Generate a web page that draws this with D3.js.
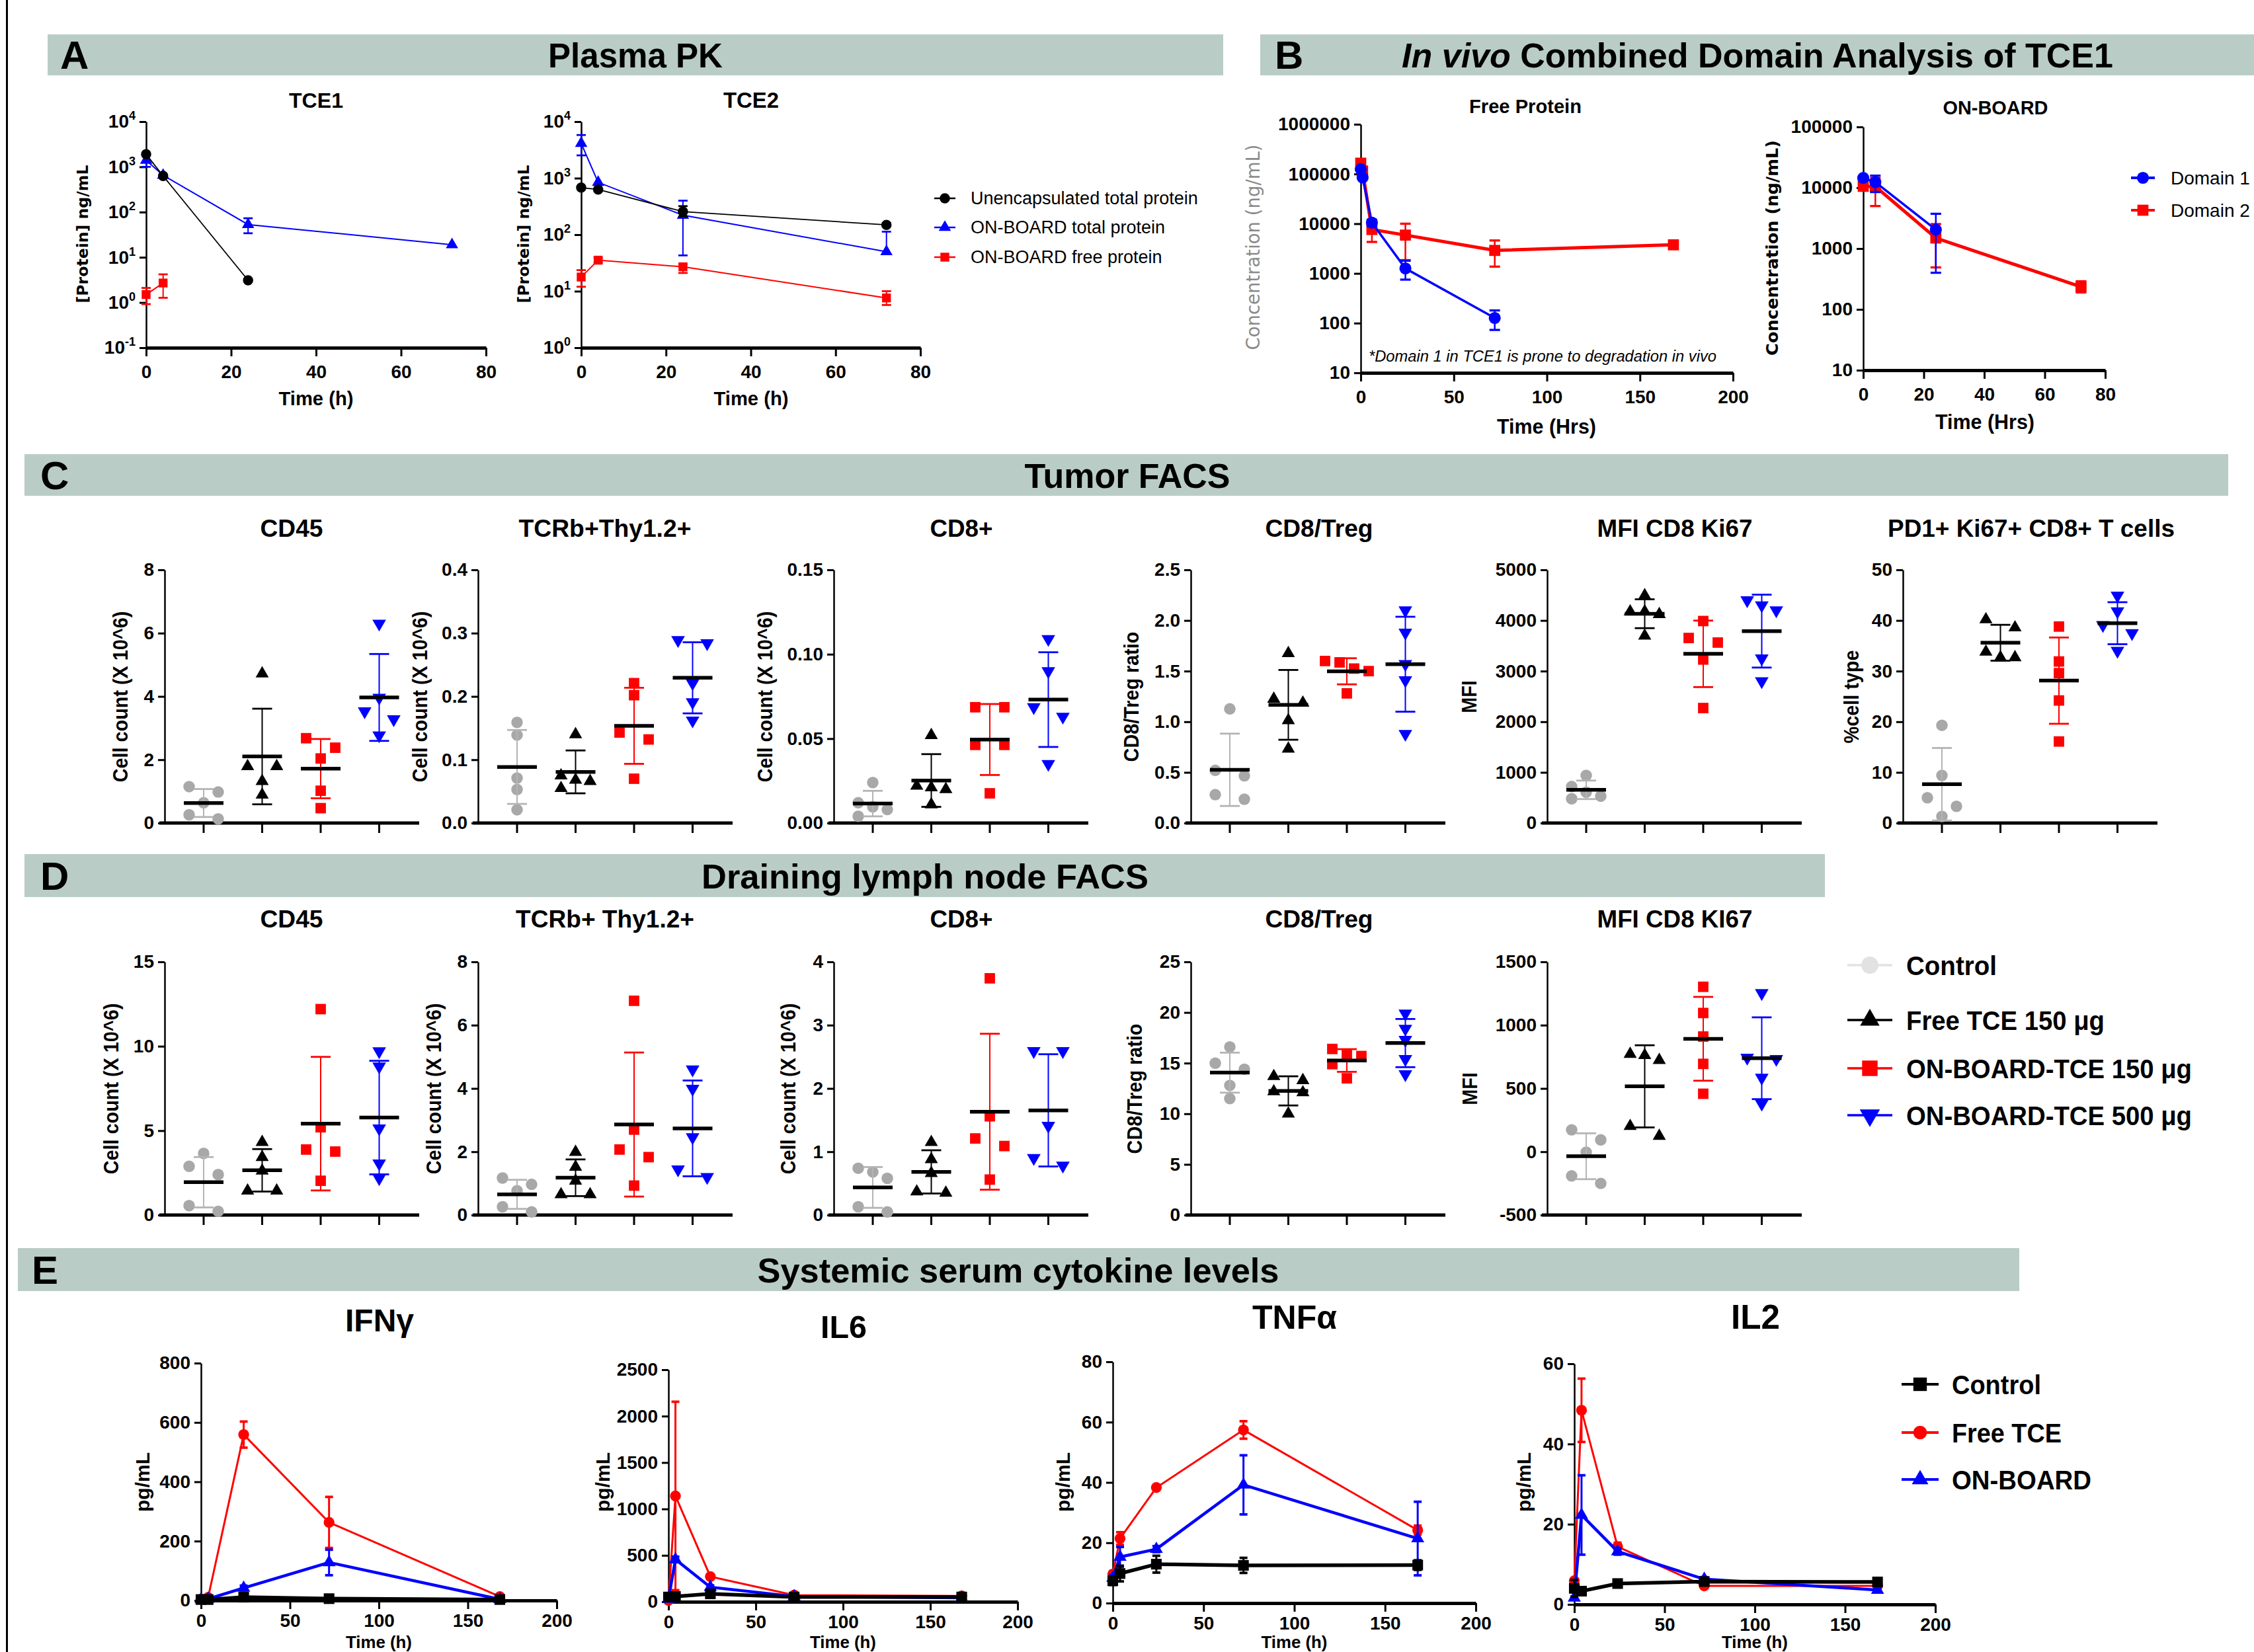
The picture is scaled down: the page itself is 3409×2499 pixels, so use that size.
<!DOCTYPE html>
<html><head><meta charset="utf-8">
<script src="https://cdn.jsdelivr.net/npm/d3@7"></script>
<style>body{margin:0;background:#fff}</style>
</head><body>
<script>
// ================= DATA =================
// Panel A: Plasma PK   rows: [time h, mean, low, high]
const pkSeriesNames = ["Unencapsulated total protein","ON-BOARD total protein","ON-BOARD free protein"];
const pkTicksX = [0,20,40,60,80];
const tce1Unencap      = [[0,1900],[4,630],[24,3.1]];
const tce1OnboardTotal = [[0,1400,1000,1750],[4,650],[24,53,34,73],[72,19]];
const tce1OnboardFree  = [[0,1.5,0.92,2.1],[4,2.7,1.27,4.2]];
const tce2Unencap      = [[0,680],[4,630],[24,256,210,320],[72,149,140,160]];
const tce2OnboardTotal = [[0,4130,2530,5800],[4,843],[24,221,43,400],[72,50,null,113]];
const tce2OnboardFree  = [[0,17.8,12,23.6],[4,35.4,32,39],[24,27,21,30],[72,7.6,5.7,10]];

// Panel B: combined domain analysis
const domainNames = ["Domain 1","Domain 2"];
const freeTicksX = [0,50,100,150,200];
const onboardTicksX = [0,20,40,60,80];
const freeDomain1 = [[0,125000],[1,85000],[6,10500,9000,12000],[24,1260,750,1800],[72,127,73,180]];
const freeDomain2 = [[0,165000,130000,195000],[1,115000],[6,7650,4300,9800],[24,5900,1850,10000],[72,2900,1370,4600],[168,3760,3400,4100]];
const onboardDomain1 = [[0,14500],[4,12360,8500,15800],[24,2050,400,3730]];
const onboardDomain2 = [[0,10540],[4,10500,5000,14500],[24,1490,490,2530],[72,235,190,290]];

// Panels C & D: FACS (5 animals per group)
const facsGroups = ["Control","Free TCE 150 μg","ON-BOARD-TCE 150 μg","ON-BOARD-TCE 500 μg"];
const tumorCD45  = [[1.15,0.98,0.64,0.26,0.13],[4.72,1.79,1.79,1.32,0.89],[2.68,2.38,2.04,1.02,0.47],[6.3,3.96,3.53,3.28,2.77]];
const tumorTCR   = [[0.159,0.139,0.071,0.053,0.021],[0.140,0.075,0.068,0.066,0.055],[0.221,0.202,0.143,0.132,0.070],[0.289,0.284,0.221,0.191,0.162]];
const tumorCD8   = [[0.024,0.012,0.0096,0.008,0.004],[0.052,0.022,0.021,0.020,0.011],[0.0686,0.0686,0.0463,0.0463,0.0176],[0.109,0.090,0.0686,0.063,0.035]];
const tumorRatio = [[1.127,0.52,0.466,0.28,0.235],[1.676,1.226,1.186,1.013,0.733],[1.60,1.586,1.525,1.50,1.28],[2.10,1.88,1.57,1.41,0.88]];
const tumorMFI   = [[940,720,610,530,480],[4495,4176,4176,4122,3697],[3989,3654,3564,3229,2271],[4400,4300,4200,3250,2800]];
const tumorPD1   = [[19.3,9.4,5.0,3.3,1.3],[40.2,38.6,33.8,32.7,32.7],[38.8,31.9,29.6,24.2,16.1],[44.9,41.8,39.1,37.5,34.0]];
const lnCD45  = [[3.65,2.89,2.40,0.56,0.22],[4.32,3.43,2.62,1.44,1.44],[12.2,5.2,3.88,3.76,2.03],[9.7,8.8,5.13,3.06,2.18]];
const lnTCR   = [[1.17,0.97,0.77,0.26,0.10],[1.99,1.52,1.08,0.65,0.65],[6.77,2.70,2.07,1.83,0.93],[4.6,3.99,2.46,1.44,1.2]];
const lnCD8   = [[0.74,0.68,0.58,0.13,0.05],[1.15,0.88,0.66,0.37,0.35],[3.74,1.56,1.21,1.09,0.56],[2.59,2.59,1.41,0.90,0.78]];
const lnRatio = [[16.6,15.0,14.4,12.8,11.5],[13.7,13.3,12.2,12.1,10.0],[16.4,15.8,15.7,14.9,13.5],[19.9,18.4,17.3,15.4,13.9]];
const lnMFI   = [[173,94,-4,-191,-250],[772,762,723,202,124],[1303,1096,910,694,458],[1253,743,733,585,379]];

// Panel E: serum cytokines (mean, SD) at each time
const cytoSeries = ["Control","Free TCE","ON-BOARD"];
const cytoTimes = [0,4,24,72,168];
const cytoTicksX = [0,50,100,150,200];
const ifngControl=[3,3,11,6,3],        ifngControlSD=[2,2,5,4,2];
const ifngFree=[4,10,559,263,13],      ifngFreeSD=[2,3,44,86,5];
const ifngOnboard=[3,5,42,128,4],      ifngOnboardSD=[2,3,8,43,3];
const il6Control=[51,57,85,51,51],     il6ControlSD=[15,15,25,15,10];
const il6Free=[14,1140,271,71,63],     il6FreeSD=[10,1015,25,15,10];
const il6Onboard=[28,456,157,57,43],   il6OnboardSD=[10,30,20,10,10];
const tnfControl=[7.4,9.8,12.9,12.5,12.6], tnfControlSD=[1.4,2.6,2.8,2.5,1.6];
const tnfFree=[9.6,21.4,38.3,57.4,24.2],   tnfFreeSD=[1,2.1,0.8,2.9,1.5];
const tnfOnboard=[8.3,15.3,17.9,39.2,21.4],tnfOnboardSD=[1,3.3,1,9.8,12.2];
const il2Control=[4.0,3.3,5.2,5.7,5.6],    il2ControlSD=[2.1,0.8,0.6,0.6,0.7];
const il2Free=[5.9,48.4,14.4,4.6,4.6],     il2FreeSD=[0.5,7.9,1,0.4,0.4];
const il2Onboard=[1.65,22.3,13.2,6.3,3.6], il2OnboardSD=[0.3,9.9,0.8,0.5,0.3];

// ================= DRAWING =================
const W=3409,H=2499;
const FA="'Liberation Sans', Arial, Helvetica, sans-serif";
const FT=FA;
const FW="'DejaVu Sans', Verdana, sans-serif";
const RED="#ff0000", BLUE="#0000ff", GRAY="#a8a8a8", BAR="#b9cdc6";

const svg=d3.select('body').append('svg').attr('width',W).attr('height',H);
svg.append('rect').attr('width',W).attr('height',H).attr('fill','#fff');
svg.append('line').attr('x1',10.5).attr('x2',10.5).attr('y1',0).attr('y2',H).attr('stroke','#000').attr('stroke-width',3);

function fit(t,w){const L=t.node().getComputedTextLength(); if(L>0){const fs=parseFloat(t.attr('font-size')); t.attr('font-size',(fs*w/L).toFixed(2));} return t;}
function squeeze(t,w){t.attr('textLength',w).attr('lengthAdjust','spacingAndGlyphs'); return t;}
function txt(x,y,s,fs,fam,wt,anchor){return svg.append('text').attr('x',x).attr('y',y).attr('font-size',fs).attr('font-family',fam).attr('font-weight',wt||'normal').attr('text-anchor',anchor||'start').attr('fill','#000').text(s);}
function vtxt(x,y,s,fs,fam,wt,col){return svg.append('text').attr('transform',`translate(${x},${y}) rotate(-90)`).attr('font-size',fs).attr('font-family',fam).attr('font-weight',wt||'bold').attr('text-anchor','middle').attr('dominant-baseline','central').attr('fill',col||'#000').text(s);}
function styleAxis(g,domW,tickW){
  g.attr('font-size',null).attr('font-family',null);
  g.select('.domain').attr('stroke','#000').attr('stroke-width',domW);
  g.selectAll('.tick line').attr('stroke','#000').attr('stroke-width',tickW);
  g.selectAll('.tick text').attr('font-size',28).attr('font-family',FA).attr('font-weight','bold').attr('fill','#000');
}
function mark(g,type,size,cx,cy,color,down){
  g.append('path').attr('d',d3.symbol(type,size)()).attr('transform',`translate(${cx},${cy})${down?' rotate(180)':''}`).attr('fill',color);
}
function errBar(g,cx,ym,yLo,yHi,capW,color,w){
  [yLo,yHi].forEach(yy=>{ if(yy==null) return;
    g.append('line').attr('x1',cx).attr('x2',cx).attr('y1',ym).attr('y2',yy).attr('stroke',color).attr('stroke-width',w);
    g.append('line').attr('x1',cx-capW/2).attr('x2',cx+capW/2).attr('y1',yy).attr('y2',yy).attr('stroke',color).attr('stroke-width',w+0.8);
  });
}

// ---------- headers ----------
function header(x,y,w,h,letter,letterX,title,cx,tw,italic){
  svg.append('rect').attr('x',x).attr('y',y).attr('width',w).attr('height',h).attr('fill',BAR);
  txt(letterX,y+h/2+21,letter,60,FA,'bold');
  const t=svg.append('text').attr('x',cx).attr('y',y+h/2+19).attr('font-size',52).attr('font-family',FT).attr('font-weight','bold').attr('text-anchor','middle').attr('fill','#000');
  if(italic){t.append('tspan').attr('font-style','italic').text(italic); t.append('tspan').text(title);} else t.text(title);
  fit(t,tw);
}
header(72,52,1778,62,'A',91,'Plasma PK',961,264);
header(1906,52,1503,62,'B',1928,' Combined Domain Analysis of TCE1',2658,1076,'In vivo');
header(37,687,3333,63,'C',61,'Tumor FACS',1705,311);
header(37,1292,2723,65,'D',61,'Draining lymph node FACS',1399,676);
header(27,1888,3027,65,'E',48,'Systemic serum cytokine levels',1540,789);

// ---------- log-scale PK plots (A, B) ----------
function logPlot(o){
  const x=d3.scaleLinear().domain(o.xDomain).range([o.x0,o.x1]);
  const y=d3.scaleLog().domain(o.yDomain).range([o.yBot,o.yTop]);
  const decades=d3.range(Math.round(Math.log10(o.yDomain[0])),Math.round(Math.log10(o.yDomain[1]))+1).map(e=>Math.pow(10,e));
  const ya=svg.append('g').attr('transform',`translate(${o.x0},0)`)
    .call(d3.axisLeft(y).tickValues(decades).tickFormat(d=>String(Math.round(d))).tickSize(10).tickPadding(6).tickSizeOuter(0));
  styleAxis(ya,2.5,3);
  if(o.sup){
    ya.selectAll('.tick text').each(function(d){const t=d3.select(this); t.text('');
      t.append('tspan').text('10'); t.append('tspan').attr('dy',-12).attr('font-size',18).text(Math.round(Math.log10(d)));});
  }
  const xa=svg.append('g').attr('transform',`translate(0,${o.yBot})`)
    .call(d3.axisBottom(x).tickValues(o.xTicks).tickSize(13).tickPadding(13).tickSizeOuter(0));
  styleAxis(xa,5,3);
  o.series.forEach(s=>{
    const g=svg.append('g');
    g.append('path').datum(s.data).attr('d',d3.line().x(d=>x(d[0])).y(d=>y(d[1]))).attr('fill','none').attr('stroke',s.color).attr('stroke-width',s.lw);
    s.data.forEach(d=>{ if(d[2]!=null||d[3]!=null) errBar(g,x(d[0]),y(d[1]),d[2]!=null?y(d[2]):null,d[3]!=null?y(d[3]):null,s.cap,s.color,s.ew); });
    s.data.forEach(d=>mark(g,s.sym,s.size,x(d[0]),y(d[1]),s.color,s.down));
  });
  fit(txt(o.titleCx,o.titleY,o.title,30,FT,'bold','middle'),o.titleW);
  fit(txt(o.xlabCx,o.xlabY,o.xlab,28,FT,'bold','middle'),o.xlabW);
  fit(vtxt(o.ylabX,o.ylabY,o.ylab,26,FW,o.ylabWt||'bold',o.ylabCol),o.ylabW);
}
const pkA=(u,t,f)=>[
  {data:f,color:RED,sym:d3.symbolSquare,size:180,lw:2,cap:14,ew:2},
  {data:t,color:BLUE,sym:d3.symbolTriangle,size:150,lw:2,cap:14,ew:2},
  {data:u,color:'#000',sym:d3.symbolCircle,size:190,lw:1.8,cap:14,ew:2}];
logPlot({x0:221,x1:735,yTop:184,yBot:526,xDomain:[0,80],xTicks:pkTicksX,yDomain:[0.1,1e4],sup:true,
  title:'TCE1',titleCx:478,titleY:163,titleW:82,xlab:'Time (h)',xlabCx:478,xlabY:613,xlabW:113,
  ylab:'[Protein] ng/mL',ylabX:125,ylabY:354,ylabW:209,series:pkA(tce1Unencap,tce1OnboardTotal,tce1OnboardFree)});
logPlot({x0:879,x1:1392,yTop:184,yBot:526,xDomain:[0,80],xTicks:pkTicksX,yDomain:[1,1e4],sup:true,
  title:'TCE2',titleCx:1136,titleY:163,titleW:84,xlab:'Time (h)',xlabCx:1136,xlabY:613,xlabW:113,
  ylab:'[Protein] ng/mL',ylabX:792,ylabY:354,ylabW:209,series:pkA(tce2Unencap,tce2OnboardTotal,tce2OnboardFree)});
// legend A
[['#000',d3.symbolCircle,190],[BLUE,d3.symbolTriangle,150],[RED,d3.symbolSquare,180]].forEach((s,i)=>{
  const yy=[300,344,389][i], g=svg.append('g');
  g.append('line').attr('x1',1413).attr('x2',1445).attr('y1',yy).attr('y2',yy).attr('stroke',s[0]).attr('stroke-width',2.5);
  mark(g,s[1],s[2],1429,yy,s[0]);
  txt(1468,yy+9,pkSeriesNames[i],27,FA,'normal');
});

const pkB=(d1,d2)=>[
  {data:d2,color:RED,sym:d3.symbolSquare,size:280,lw:5,cap:16,ew:2.5},
  {data:d1,color:BLUE,sym:d3.symbolCircle,size:260,lw:3.5,cap:16,ew:2.5}];
logPlot({x0:2058,x1:2621,yTop:188,yBot:564,xDomain:[0,200],xTicks:freeTicksX,yDomain:[10,1e6],
  title:'Free Protein',titleCx:2307,titleY:171,titleW:170,xlab:'Time (Hrs)',xlabCx:2339,xlabY:656,xlabW:150,
  ylab:'Concentration (ng/mL)',ylabX:1895,ylabY:374,ylabW:311,ylabWt:'normal',ylabCol:'#8a8a8a',series:pkB(freeDomain1,freeDomain2)});
logPlot({x0:2818,x1:3184,yTop:192,yBot:560,xDomain:[0,80],xTicks:onboardTicksX,yDomain:[10,1e5],
  title:'ON-BOARD',titleCx:3018,titleY:173,titleW:159,xlab:'Time (Hrs)',xlabCx:3002,xlabY:649,xlabW:150,
  ylab:'Concentration (ng/mL)',ylabX:2680,ylabY:375,ylabW:326,series:pkB(onboardDomain1,onboardDomain2)});
fit(txt(2070,547,'*Domain 1 in TCE1 is prone to degradation in vivo',22,FA,'normal').attr('font-style','italic'),526);
// legend B
[[BLUE,d3.symbolCircle,260],[RED,d3.symbolSquare,280]].forEach((s,i)=>{
  const yy=[269,318][i], g=svg.append('g');
  g.append('line').attr('x1',3223).attr('x2',3259).attr('y1',yy).attr('y2',yy).attr('stroke',s[0]).attr('stroke-width',4);
  mark(g,s[1],s[2],3241,yy,s[0]);
  txt(3283,yy+10,domainNames[i],28,FA,'normal');
});

// ---------- scatter plots (C, D) ----------
const grpColor=[GRAY,'#000',RED,BLUE], grpErr=['#b4b4b4','#000',RED,BLUE];
const grpSym=[[d3.symbolCircle,240,false],[d3.symbolTriangle,170,false],[d3.symbolSquare,250,false],[d3.symbolTriangle,185,true]];
function swarm(vals,y,d,thr){
  const idx=vals.map((v,i)=>i).sort((a,b)=>vals[b]-vals[a]);
  const off=new Array(vals.length).fill(0), placed=[];
  let i=0;
  while(i<idx.length){
    const row=[idx[i]], y0=y(vals[idx[i]]); let j=i+1;
    while(j<idx.length && Math.abs(y(vals[idx[j]])-y0)<thr){row.push(idx[j]); j++;}
    const n=row.length; let cand;
    if(n===1){const opts=[0,-d,d,-2*d,2*d];
      const o=opts.find(o=>placed.every(p=>Math.abs(p.y-y0)>=thr||Math.abs(p.x-o)>=thr)); cand=[o==null?0:o];}
    else if(n===2) cand=[-d,d];
    else cand=row.map((_,k)=>(k-(n-1)/2)*d);
    row.forEach((r,k)=>{off[r]=cand[k]; placed.push({x:cand[k],y:y(vals[r])});});
    i=j;
  }
  return off;
}
function scatter(o){
  const y=d3.scaleLinear().domain([o.yTicks[0],o.yTicks[o.yTicks.length-1]]).range([o.yBot,o.yTop]);
  const x=d3.scalePoint().domain(facsGroups).range([o.x0+59,o.x0+59+3*88.5]);
  const ya=svg.append('g').attr('transform',`translate(${o.x0},0)`)
    .call(d3.axisLeft(y).tickValues(o.yTicks).tickFormat(o.fmt).tickSize(10).tickPadding(6).tickSizeOuter(0));
  styleAxis(ya,2.5,3);
  svg.append('line').attr('x1',o.x0-8).attr('x2',o.x0+385).attr('y1',o.yBot).attr('y2',o.yBot).attr('stroke','#000').attr('stroke-width',5);
  facsGroups.forEach(gn=>svg.append('line').attr('x1',x(gn)).attr('x2',x(gn)).attr('y1',o.yBot).attr('y2',o.yBot+15).attr('stroke','#000').attr('stroke-width',3));
  o.data.forEach((vals,gi)=>{
    const g=svg.append('g'), cx=x(facsGroups[gi]);
    const offs=swarm(vals,y,22,16);
    vals.forEach((v,k)=>mark(g,grpSym[gi][0],grpSym[gi][1],cx+offs[k],y(v),grpColor[gi],grpSym[gi][2]));
    const m=d3.mean(vals), sd=d3.deviation(vals);
    errBar(g,cx,y(m),y(m-sd),y(m+sd),30,grpErr[gi],2);
    g.append('line').attr('x1',cx-30).attr('x2',cx+30).attr('y1',y(m)).attr('y2',y(m)).attr('stroke','#000').attr('stroke-width',5.5);
  });
  fit(txt(o.titleCx,o.titleY,o.title,34,FT,'bold','middle'),o.titleW);
  const t=vtxt(o.ylabX,o.ylabY,o.ylab,32,FA,'bold');
  squeeze(t,t.node().getComputedTextLength()*0.9);
}
const fD=d=>String(d), f1=d3.format('.1f'), f2=d3.format('.2f');
const cRow={yTop:862,yBot:1245,titleY:812,ylabY:1054};
const dRow={yTop:1455,yBot:1838,titleY:1403,ylabY:1647};
const cellLab='Cell count (X 10^6)';
scatter({...cRow,x0:249,data:tumorCD45,yTicks:[0,2,4,6,8],fmt:fD,title:'CD45',titleCx:441,titleW:95,ylab:cellLab,ylabX:182});
scatter({...cRow,x0:723,data:tumorTCR,yTicks:[0,0.1,0.2,0.3,0.4],fmt:f1,title:'TCRb+Thy1.2+',titleCx:915,titleW:261,ylab:cellLab,ylabX:635});
scatter({...cRow,x0:1261,data:tumorCD8,yTicks:[0,0.05,0.10,0.15],fmt:f2,title:'CD8+',titleCx:1454,titleW:95,ylab:cellLab,ylabX:1157});
scatter({...cRow,x0:1801,data:tumorRatio,yTicks:[0,0.5,1,1.5,2,2.5],fmt:f1,title:'CD8/Treg',titleCx:1995,titleW:163,ylab:'CD8/Treg ratio',ylabX:1711});
scatter({...cRow,x0:2340,data:tumorMFI,yTicks:[0,1000,2000,3000,4000,5000],fmt:fD,title:'MFI CD8 Ki67',titleCx:2533,titleW:235,ylab:'MFI',ylabX:2222});
scatter({...cRow,x0:2878,data:tumorPD1,yTicks:[0,10,20,30,40,50],fmt:fD,title:'PD1+ Ki67+ CD8+ T cells',titleCx:3072,titleW:434,ylab:'%cell type',ylabX:2800});
scatter({...dRow,x0:249,data:lnCD45,yTicks:[0,5,10,15],fmt:fD,title:'CD45',titleCx:441,titleW:95,ylab:cellLab,ylabX:168});
scatter({...dRow,x0:723,data:lnTCR,yTicks:[0,2,4,6,8],fmt:fD,title:'TCRb+ Thy1.2+',titleCx:915,titleW:270,ylab:cellLab,ylabX:656});
scatter({...dRow,x0:1261,data:lnCD8,yTicks:[0,1,2,3,4],fmt:fD,title:'CD8+',titleCx:1454,titleW:95,ylab:cellLab,ylabX:1192});
scatter({...dRow,x0:1801,data:lnRatio,yTicks:[0,5,10,15,20,25],fmt:fD,title:'CD8/Treg',titleCx:1995,titleW:163,ylab:'CD8/Treg ratio',ylabX:1716});
scatter({...dRow,x0:2340,data:lnMFI,yTicks:[-500,0,500,1000,1500],fmt:fD,title:'MFI CD8 KI67',titleCx:2533,titleW:235,ylab:'MFI',ylabX:2223});
// legend C/D
const legW=[137,300,432,432];
facsGroups.forEach((nm,i)=>{
  const yy=[1460,1543,1616,1687][i], g=svg.append('g'), col=i===0?'#e2e2e2':grpColor[i];
  g.append('line').attr('x1',2794).attr('x2',2862).attr('y1',yy).attr('y2',yy).attr('stroke',col).attr('stroke-width',3.5);
  mark(g,grpSym[i][0],grpSym[i][1]*2.2,2828,yy,col,grpSym[i][2]);
  squeeze(txt(2883,yy+15,nm,41,FT,'bold'),legW[i]);
});

// ---------- cytokine line plots (E) ----------
const cytoStyle=[{color:'#000',sym:d3.symbolSquare,size:260,lw:5.5},{color:RED,sym:d3.symbolCircle,size:210,lw:3},{color:BLUE,sym:d3.symbolTriangle,size:170,lw:4.5}];
function cytoPlot(o){
  const x=d3.scaleLinear().domain([0,200]).range([o.x0,o.x1]);
  const y=d3.scaleLinear().domain([0,o.yTicks[o.yTicks.length-1]]).range([o.yBot,o.yTop]);
  const ya=svg.append('g').attr('transform',`translate(${o.x0},0)`)
    .call(d3.axisLeft(y).tickValues(o.yTicks).tickFormat(fD).tickSize(10).tickPadding(6).tickSizeOuter(0));
  styleAxis(ya,2.5,3);
  const xa=svg.append('g').attr('transform',`translate(0,${o.yBot})`)
    .call(d3.axisBottom(x).tickValues(cytoTicksX).tickSize(13).tickPadding(7).tickSizeOuter(0));
  styleAxis(xa,5,3);
  [1,2,0].forEach(si=>{
    const st=cytoStyle[si], vals=o.series[si][0], sd=o.series[si][1], g=svg.append('g');
    const pts=cytoTimes.map((t,i)=>[t,vals[i],sd[i]]);
    g.append('path').datum(pts).attr('d',d3.line().x(d=>x(d[0])).y(d=>y(d[1]))).attr('fill','none').attr('stroke',st.color).attr('stroke-width',st.lw);
    pts.forEach(d=>errBar(g,x(d[0]),y(d[1]),y(Math.max(0,d[1]-d[2])),y(d[1]+d[2]),12,st.color,3));
    pts.forEach(d=>mark(g,st.sym,st.size,x(d[0]),y(d[1]),st.color));
  });
  fit(txt(o.titleCx,o.titleY,o.title,46,FT,'bold','middle'),o.titleW);
  vtxt(o.ylabX,2242,'pg/mL',30,FA,'bold');
  fit(txt((o.x0+o.x1)/2,2493,'Time (h)',24,FT,'bold','middle'),100);
}
cytoPlot({x0:304,x1:842,yTop:2062,yBot:2421,yTicks:[0,200,400,600,800],title:'IFNγ',titleCx:574,titleY:2014,titleW:104,ylabX:215,
  series:[[ifngControl,ifngControlSD],[ifngFree,ifngFreeSD],[ifngOnboard,ifngOnboardSD]]});
cytoPlot({x0:1011,x1:1539,yTop:2072,yBot:2423,yTicks:[0,500,1000,1500,2000,2500],title:'IL6',titleCx:1276,titleY:2024,titleW:70,ylabX:911,
  series:[[il6Control,il6ControlSD],[il6Free,il6FreeSD],[il6Onboard,il6OnboardSD]]});
cytoPlot({x0:1683,x1:2232,yTop:2060,yBot:2425,yTicks:[0,20,40,60,80],title:'TNFα',titleCx:1958,titleY:2010,titleW:128,ylabX:1607,
  series:[[tnfControl,tnfControlSD],[tnfFree,tnfFreeSD],[tnfOnboard,tnfOnboardSD]]});
cytoPlot({x0:2381,x1:2927,yTop:2063,yBot:2427,yTicks:[0,20,40,60],title:'IL2',titleCx:2655,titleY:2010,titleW:74,ylabX:2304,
  series:[[il2Control,il2ControlSD],[il2Free,il2FreeSD],[il2Onboard,il2OnboardSD]]});
// legend E
const legEW=[135,166,211];
cytoSeries.forEach((nm,i)=>{
  const yy=[2094,2167,2238][i], g=svg.append('g'), st=cytoStyle[i];
  g.append('line').attr('x1',2876).attr('x2',2932).attr('y1',yy).attr('y2',yy).attr('stroke',st.color).attr('stroke-width',4);
  mark(g,st.sym,st.size*1.6,2904,yy,st.color);
  squeeze(txt(2952,yy+15,nm,41,FT,'bold'),legEW[i]);
});
</script>
</body></html>
